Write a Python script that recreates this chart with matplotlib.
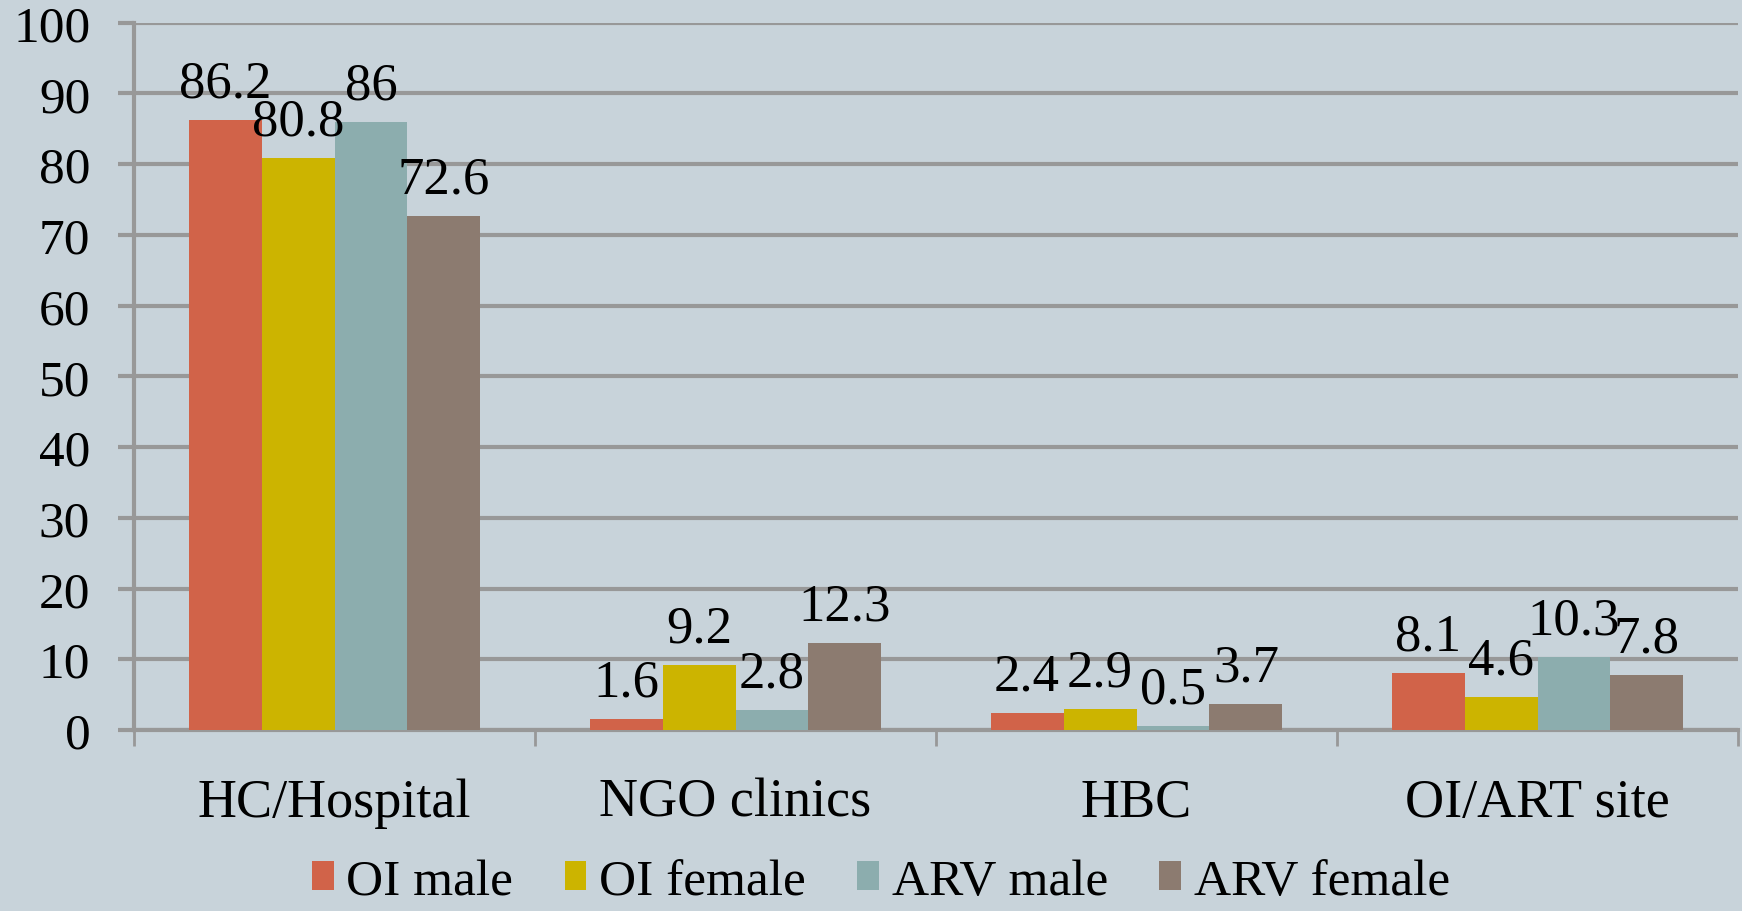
import matplotlib
matplotlib.use("Agg")
import matplotlib.pyplot as plt
import numpy as np
from matplotlib.patches import Patch

# Values.
categories = ["HC/Hospital", "NGO clinics", "HBC", "OI/ART site"]
series_names = ["OI male", "OI female", "ARV male", "ARV female"]
oi_male = [86.2, 1.6, 2.4, 8.1]
oi_female = [80.8, 9.2, 2.9, 4.6]
arv_male = [86, 2.8, 0.5, 10.3]
arv_female = [72.6, 12.3, 3.7, 7.8]
y_ticks = [0, 10, 20, 30, 40, 50, 60, 70, 80, 90, 100]

COLORS = ["#D16349", "#CCB400", "#8CADAE", "#8C7B70"]  # Office "Civic" accents
BG = "#C8D3DA"
GRID = "#989898"
FONT = "Liberation Serif"

plt.rcParams["font.family"] = [FONT, "DejaVu Serif"]

fig = plt.figure(figsize=(17.42, 9.12), dpi=100, facecolor=BG)
ax = fig.add_axes([134 / 1742, 1 - 731 / 912, (1738 - 134) / 1742, (731 - 23.5) / 912])
ax.set_facecolor(BG)

x = np.arange(len(categories))
bar_w = 0.182
series = [oi_male, oi_female, arv_male, arv_female]
for i, (vals, name, col) in enumerate(zip(series, series_names, COLORS)):
    offs = (i - 1.5) * bar_w
    bars = ax.bar(x + offs, vals, width=bar_w, color=col, label=name, zorder=3)
    ax.bar_label(bars, labels=[f"{v:g}" for v in vals], padding=9,
                 fontsize=38, color="black", zorder=4)

ax.set_xlim(-0.5, len(categories) - 0.5)
ax.set_ylim(0, 100)
ax.set_yticks(y_ticks)
ax.set_yticklabels([str(t) for t in y_ticks])
ax.yaxis.grid(True, color=GRID, linewidth=3, zorder=0)
ax.set_axisbelow(True)

ax.set_xticks(x)
ax.set_xticklabels(categories)
ax.set_xticks(np.arange(len(categories) + 1) - 0.5, minor=True)
ax.tick_params(axis="x", which="major", length=0, pad=34, labelsize=39)
ax.tick_params(axis="x", which="minor", length=11.5, width=2, color=GRID)
ax.tick_params(axis="y", length=11.5, width=3, color=GRID, pad=20, labelsize=37)

for side in ("top", "right"):
    ax.spines[side].set_visible(False)
for side in ("left", "bottom"):
    ax.spines[side].set_color(GRID)
    ax.spines[side].set_linewidth(3)

handles = [Patch(facecolor=c, edgecolor="none") for c in COLORS]
fig.legend(handles, series_names, loc="center", bbox_to_anchor=(881 / 1742, 0.032),
           ncol=4, frameon=False, fontsize=37, handlelength=0.42, handleheight=0.5,
           handletextpad=0.25, columnspacing=1.0, borderpad=0, borderaxespad=0)

fig.savefig("out.png", dpi=100, facecolor=BG)
